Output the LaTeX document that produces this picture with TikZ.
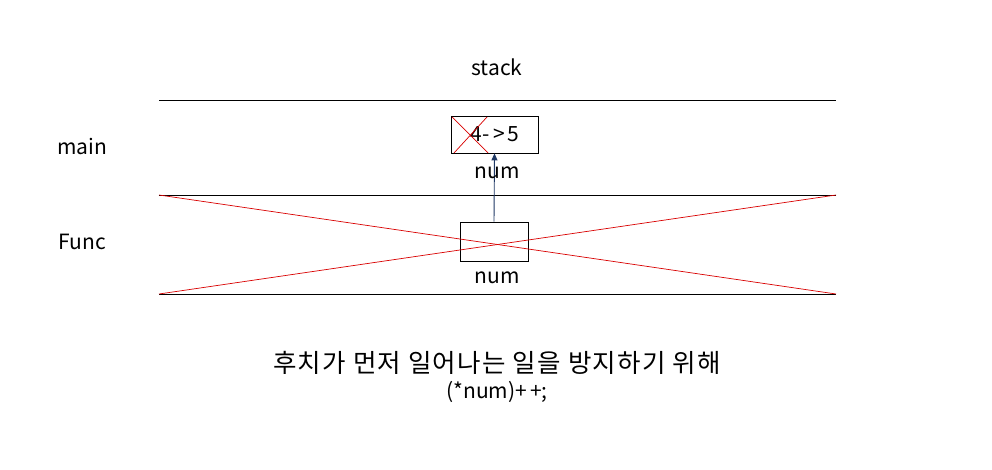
\documentclass[tikz,border=0pt]{standalone}
\usepackage{fontspec}
\setmainfont{Noto Sans CJK KR}
\usetikzlibrary{arrows.meta}
\definecolor{navy}{RGB}{31,56,100}
\tikzset{
  lbl/.style={inner sep=0pt, font=\fontsize{21}{24}\selectfont},
  sep/.style={draw=black, line width=0.8pt},
  redx/.style={draw=red!85!black, line width=0.7pt},
  cell/.style={draw=black, line width=0.8pt, fill=white, inner sep=0pt}
}
\begin{document}
\begin{tikzpicture}[x=1pt,y=-1pt]
\useasboundingbox[fill=white] (0,0) rectangle (992,470);
% horizontal lines
\coordinate (l1a) at (159,100); \coordinate (l1b) at (836,100);
\coordinate (l2a) at (159,195); \coordinate (l2b) at (836,195);
\coordinate (l3a) at (159,294); \coordinate (l3b) at (836,294);
\draw[sep] (l1a) -- (l1b);
\draw[sep] (l2a) -- (l2b);
\draw[sep] (l3a) -- (l3b);
% boxes
\node[cell, minimum width=87pt, minimum height=37pt] (b1) at (494.5,134.5) {};
\node[cell, minimum width=68pt, minimum height=39pt] (b2) at (494,241.5) {};
% big red cross
\draw[redx] (l2a) -- (l3b);
\draw[redx] (l3a) -- (l2b);
% small red cross
\coordinate (c1) at (452,117); \coordinate (c2) at (488,153);
\coordinate (c3) at (454,153); \coordinate (c4) at (487,117);
\node[lbl] (v) at (495,134) {4-\kern4pt>\kern3pt5};
\draw[redx] (c1) -- (c2);
\draw[redx] (c3) -- (c4);
% arrow
\draw[navy, line width=0.9pt, -{Triangle[length=7pt,width=6pt]}] (b2.north) -- (b1.south);
% labels
\node[lbl] (stack) at (497,67) {stack};
\node[lbl] (main) at (82,147) {main};
\node[lbl] (func) at (82,242) {Func};
\node[lbl] (n1) at (497,173) {num};
\node[lbl] (n2) at (497,278) {num};
\node[inner sep=0pt, font=\fontsize{25.5}{28}\selectfont] (k) at (497,363) {\addfontfeatures{LetterSpace=5}후치가 먼저 일어나는 일을 방지하기 위해};
\node[lbl] (code) at (497,392) {(*num)+\kern3pt+;};
\end{tikzpicture}
\end{document}
